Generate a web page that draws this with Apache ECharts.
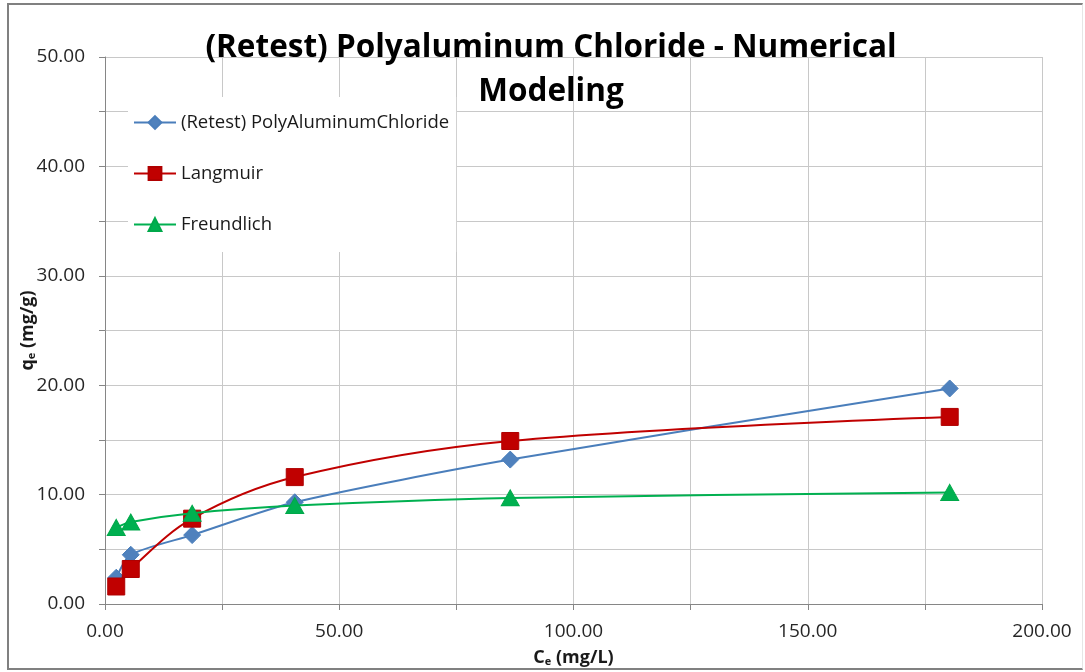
<!DOCTYPE html>
<html>
<head>
<meta charset="utf-8">
<script src="https://cdn.jsdelivr.net/npm/echarts@6/dist/echarts.min.js"></script>
<style>
html,body{margin:0;padding:0;background:#fff;}
#wrap{position:absolute;left:7px;top:3px;width:1076px;height:667px;border:2px solid #808080;border-right:1px solid #e6e6e6;box-sizing:border-box;}
#chart{position:absolute;left:0;top:0;width:1085px;height:672px;}
</style>
</head>
<body>
<div id="wrap"></div>
<div id="chart"></div>
<script>
const ceValues = [2.4, 5.5, 18.6, 40.5, 86.5, 180.3];
const experimental = [2.4, 4.5, 6.3, 9.3, 13.2, 19.7];
const langmuir = [1.6, 3.2, 7.8, 11.6, 14.9, 17.1];
const freundlich = [7.0, 7.5, 8.3, 9.0, 9.7, 10.2];
const seriesNames = ['(Retest) PolyAluminumChloride', 'Langmuir', 'Freundlich'];
const titleText = '(Retest) Polyaluminum Chloride - Numerical\nModeling';

const pairs = arr => ceValues.map((x, i) => [x, arr[i]]);
const font = '"Open Sans", "Noto Sans", sans-serif';

const chart = echarts.init(document.getElementById('chart'), null, {renderer: 'canvas'});
chart.setOption({
  animation: false,
  backgroundColor: 'transparent',
  title: {
    text: titleText,
    left: 546, top: 21, textAlign: 'center',
    textStyle: {fontFamily: font, fontWeight: 'bold', fontSize: 31.5, lineHeight: 44, color: '#000'}
  },
  grid: {left: 105, right: 43, top: 57, bottom: 67, containLabel: false},
  legend: {
    orient: 'vertical',
    left: 128, top: 97,
    padding: [16, 7, 18, 5],
    backgroundColor: '#fff',
    itemGap: 32,
    itemWidth: 42, itemHeight: 16,
    textStyle: {fontFamily: font, fontSize: 18.5, color: '#1a1a1a', width: 270},
    data: seriesNames
  },
  xAxis: {
    type: 'value', min: 0, max: 200, interval: 25,
    name: '{b|C}{s|e}{b| (mg/L)}', nameLocation: 'middle', nameGap: 44, nameMoveOverlap: false,
    nameTextStyle: {rich: {b: {fontFamily: font, fontWeight: 'bold', fontSize: 18, color: '#1a1a1a'}, s: {fontFamily: font, fontWeight: 'bold', fontSize: 11, color: '#1a1a1a', verticalAlign: 'bottom', padding: [8, 0, 0, 0]}}},
    axisLine: {show: true, lineStyle: {color: '#868686', width: 1}},
    axisTick: {show: true, inside: false, length: 6, lineStyle: {color: '#868686'}},
    axisLabel: {margin: 18, fontFamily: font, fontSize: 19, color: '#262626', formatter: v => (v % 50 === 0 ? v.toFixed(2) : '')},
    splitLine: {show: true, lineStyle: {color: '#c8c8c8', width: 1}}
  },
  yAxis: {
    type: 'value', min: 0, max: 50, interval: 5,
    name: '{b|q}{s|e}{b| (mg/g)}', nameLocation: 'middle', nameGap: 68, nameRotate: 90, nameMoveOverlap: false,
    nameTextStyle: {rich: {b: {fontFamily: font, fontWeight: 'bold', fontSize: 18, color: '#1a1a1a'}, s: {fontFamily: font, fontWeight: 'bold', fontSize: 11, color: '#1a1a1a', verticalAlign: 'bottom', padding: [8, 0, 0, 0]}}},
    axisLine: {show: true, lineStyle: {color: '#868686', width: 1}},
    axisTick: {show: true, inside: false, length: 6, lineStyle: {color: '#868686'}},
    axisLabel: {margin: 20, fontFamily: font, fontSize: 19, color: '#262626', formatter: v => (v % 10 === 0 ? v.toFixed(2) : '')},
    splitLine: {show: true, lineStyle: {color: '#c8c8c8', width: 1}}
  },
  series: [
    {
      name: seriesNames[0], type: 'line', data: pairs(experimental), smooth: 0.25,
      symbol: 'diamond', symbolSize: 17,
      lineStyle: {color: '#4a7ebb', width: 2}, itemStyle: {color: '#4f81bd', borderColor: '#4a7ebb', borderWidth: 1}, z: 3
    },
    {
      name: seriesNames[1], type: 'line', data: pairs(langmuir), smooth: 0.35,
      symbol: 'rect', symbolSize: 17,
      lineStyle: {color: '#c00000', width: 2}, itemStyle: {color: '#c00000', borderColor: '#b00000', borderWidth: 1}, z: 4
    },
    {
      name: seriesNames[2], type: 'line', data: pairs(freundlich), smooth: 0.25,
      symbol: 'triangle', symbolSize: [18, 16],
      lineStyle: {color: '#00b050', width: 2}, itemStyle: {color: '#00b050', borderColor: '#00a84a', borderWidth: 1}, z: 5
    }
  ]
});
</script>
</body>
</html>
